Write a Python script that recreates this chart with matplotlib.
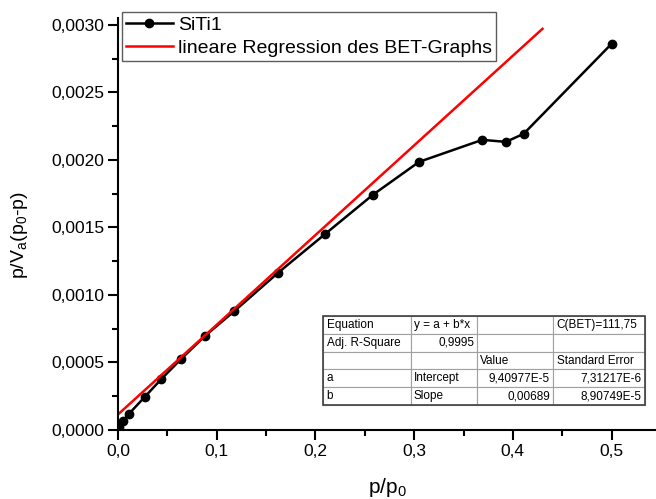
import matplotlib
matplotlib.use('Agg')
from matplotlib import pyplot as plt
from matplotlib.ticker import FuncFormatter, MultipleLocator
from matplotlib.patches import Rectangle

# measured BET data (SiTi1)
p_rel = [0.001, 0.005, 0.011, 0.027, 0.044, 0.064, 0.088, 0.118, 0.162,
         0.210, 0.258, 0.305, 0.369, 0.393, 0.411, 0.500]
bet_y = [0.000020, 0.000067, 0.000119, 0.000244, 0.000378, 0.000526, 0.000696,
         0.000881, 0.001163, 0.001452, 0.001740, 0.001985, 0.002148, 0.002133,
         0.002193, 0.002859]

# drawn regression line (start / end)
reg_x = [0.0, 0.43]
reg_y = [0.000115, 0.00297]

table_rows = [
    ['Equation', 'y = a + b*x', '', 'C(BET)=111,75'],
    ['Adj. R-Square', '0,9995', '', ''],
    ['', '', 'Value', 'Standard Error'],
    ['a', 'Intercept', '9,40977E-5', '7,31217E-6'],
    ['b', 'Slope', '0,00689', '8,90749E-5'],
]
right_cells = {(1, 1), (3, 2), (3, 3), (4, 2), (4, 3)}

plt.rcParams['font.family'] = ['Liberation Sans', 'DejaVu Sans']
plt.rcParams['mathtext.fontset'] = 'custom'
plt.rcParams['mathtext.rm'] = 'Liberation Sans'

fig = plt.figure(figsize=(6.56, 4.99), dpi=100)
ax = fig.add_axes([118 / 656, 69 / 499, 538 / 656, 412 / 499])

ax.plot(p_rel, bet_y, color='black', lw=1.8, marker='o', ms=6, label='SiTi1')
ax.plot(reg_x, reg_y, color='#ff0000', lw=1.8, label='lineare Regression des BET-Graphs')

ax.set_xlim(0, 0.545)
ax.set_ylim(0, 0.00305)
ax.xaxis.set_major_locator(MultipleLocator(0.1))
ax.xaxis.set_minor_locator(MultipleLocator(0.05))
ax.yaxis.set_major_locator(MultipleLocator(0.0005))
ax.yaxis.set_minor_locator(MultipleLocator(0.00025))
ax.xaxis.set_major_formatter(FuncFormatter(lambda v, p: '{:.1f}'.format(v).replace('.', ',')))
ax.yaxis.set_major_formatter(FuncFormatter(lambda v, p: '{:.4f}'.format(v).replace('.', ',')))

for s in ['top', 'right']:
    ax.spines[s].set_visible(False)
for s in ['left', 'bottom']:
    ax.spines[s].set_linewidth(1.5)
ax.tick_params(which='major', direction='out', length=7, width=1.5, labelsize=12.5, pad=3)
ax.tick_params(which='minor', direction='out', length=4, width=1.5)

ax.set_xlabel(r'p/p$\mathregular{_0}$', fontsize=15, labelpad=12)
ax.set_ylabel(r'p/V$\mathregular{_a}$(p$\mathregular{_0}$-p)', fontsize=14)
ax.yaxis.set_label_coords(-0.164, 0.473)

leg = ax.legend(loc='upper left', bbox_to_anchor=(122 / 656, 1 - 12 / 499),
                bbox_transform=fig.transFigure, fontsize=14, frameon=True,
                fancybox=False, handlelength=2.4, borderpad=0.2,
                labelspacing=0.3, handletextpad=0.3, borderaxespad=0)
leg.get_frame().set_edgecolor('#333333')
leg.get_frame().set_linewidth(1.0)

# parameter table
tx0, tw = (323 - 118) / 538, (645 - 323) / 538
ty0, th = (430 - 405) / 412, 89 / 412
tbl = ax.table(cellText=table_rows, colWidths=[88, 66, 76, 92],
               bbox=[tx0, ty0, tw, th], cellLoc='left')
tbl.auto_set_font_size(False)
tbl.set_fontsize(8.5)
for (r, c), cell in tbl.get_celld().items():
    cell.set_edgecolor('#a0a0a0')
    cell.set_linewidth(0.8)
    cell.PAD = 0.04
    if (r, c) in right_cells:
        cell.get_text().set_ha('right')
        cell._loc = 'right'
ax.add_patch(Rectangle((tx0, ty0), tw, th, transform=ax.transAxes, fill=False,
                       edgecolor='#404040', lw=1.2, zorder=10, clip_on=False))

fig.savefig('out.png', dpi=100)
